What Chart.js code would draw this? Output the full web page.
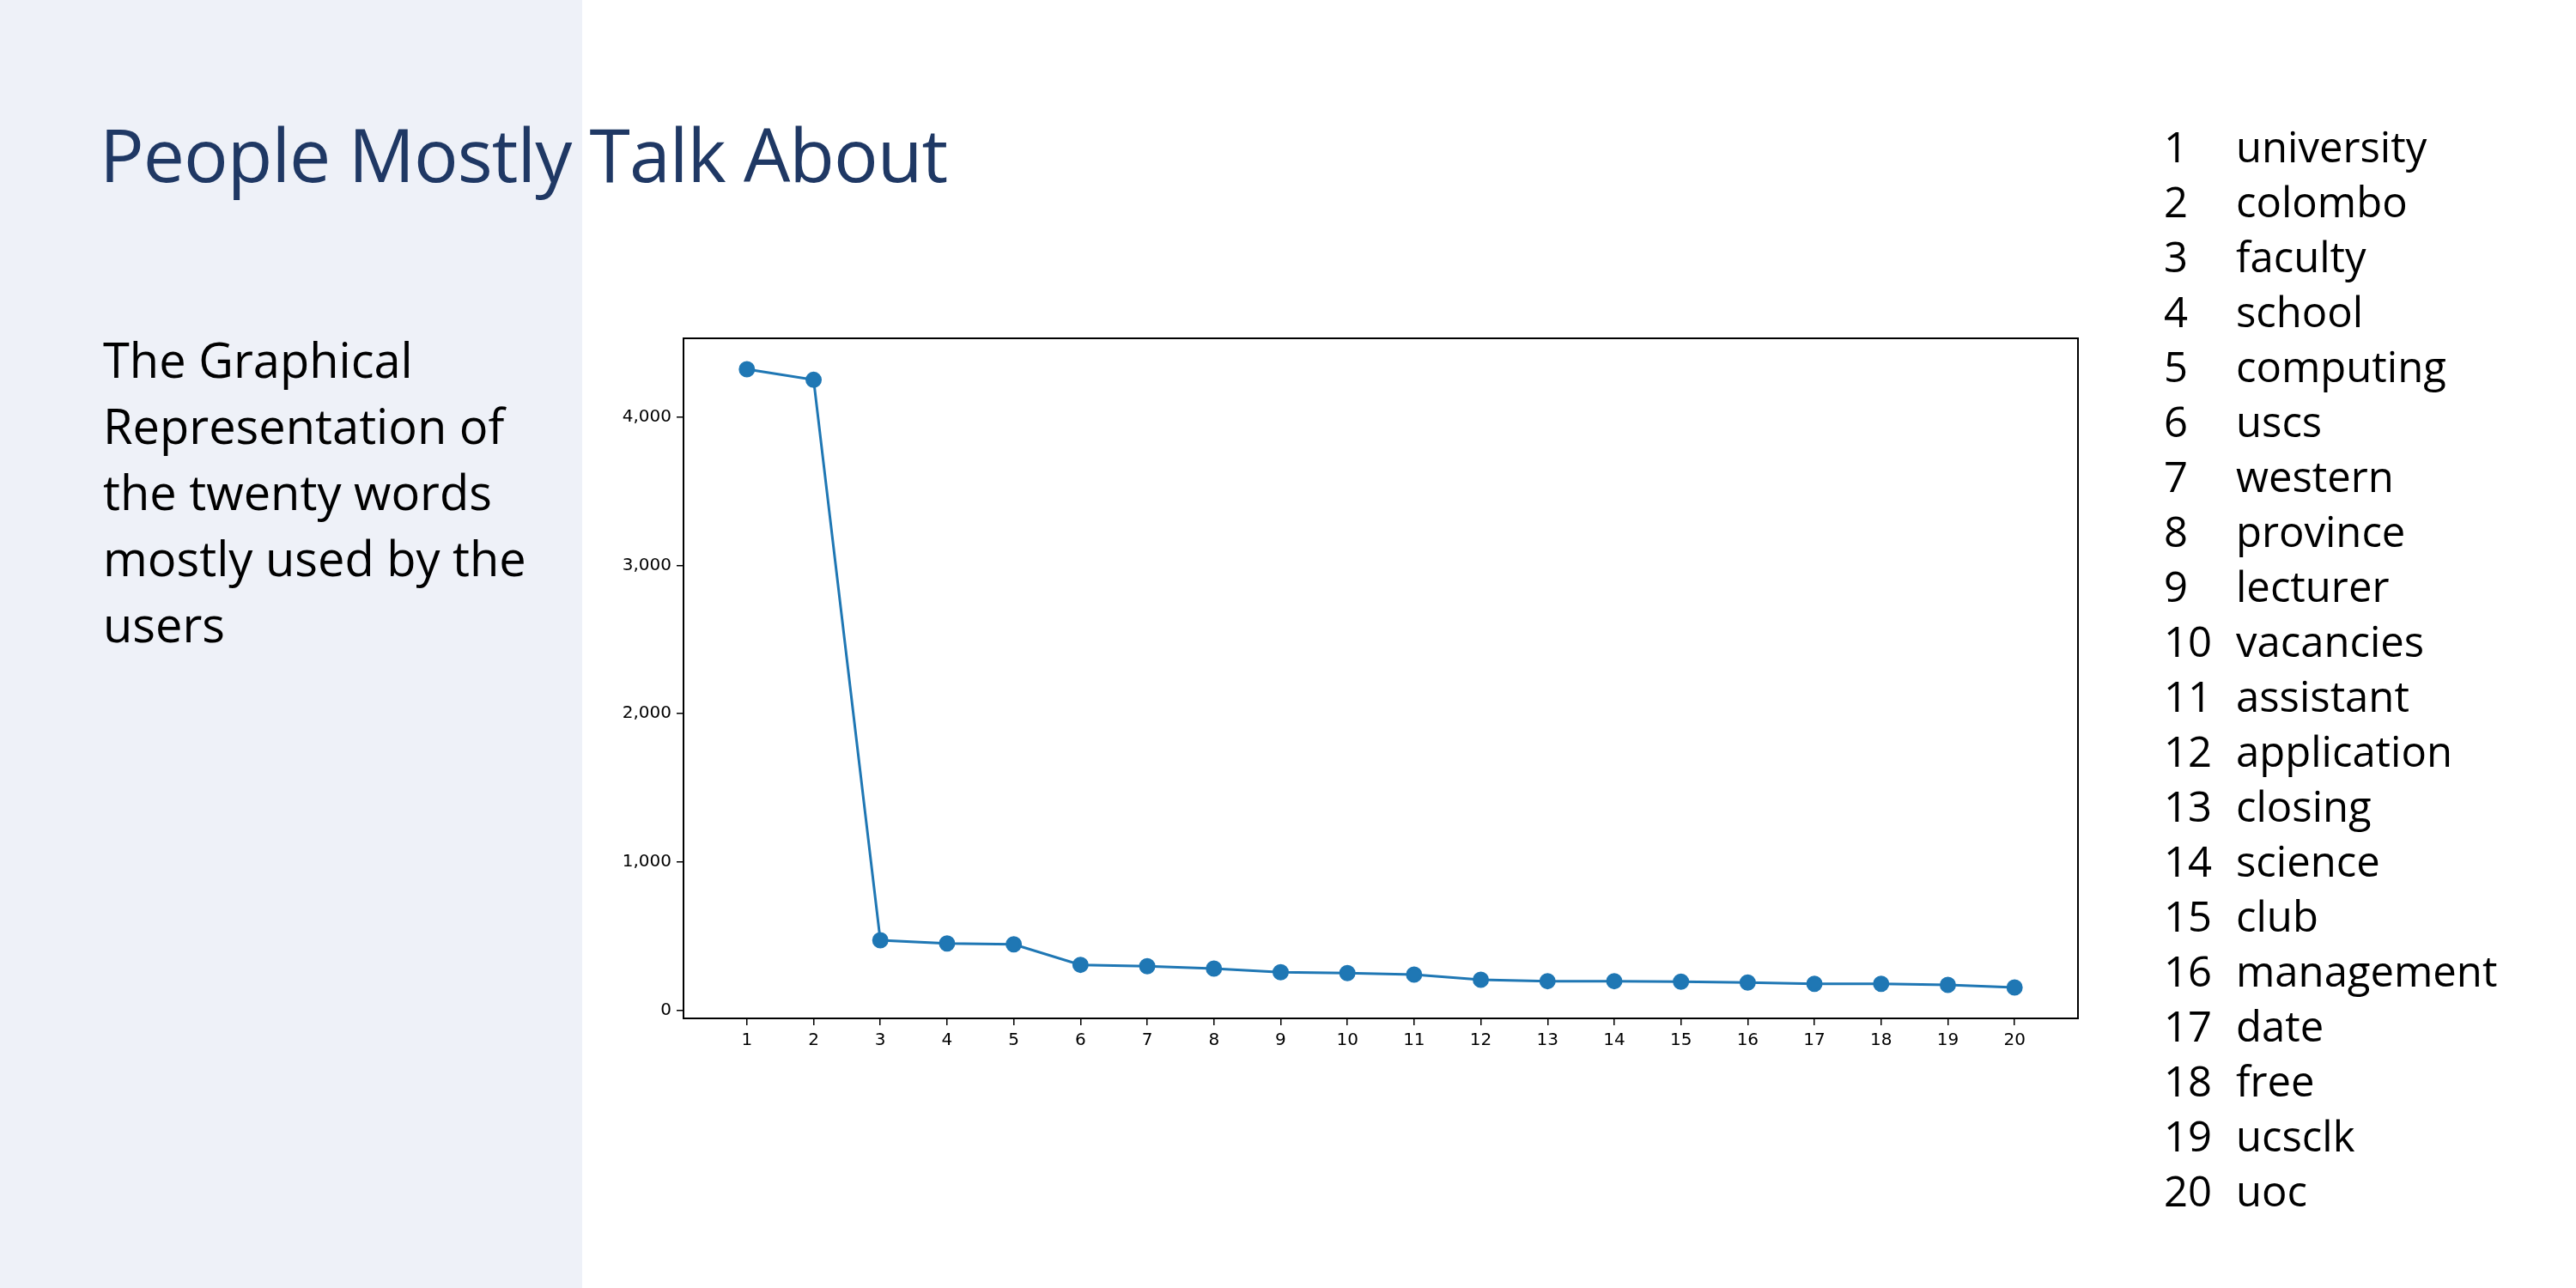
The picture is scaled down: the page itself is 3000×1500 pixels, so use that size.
<!DOCTYPE html>
<html><head><meta charset="utf-8">
<script src="https://cdn.jsdelivr.net/npm/chart.js@4/dist/chart.umd.min.js"></script>
<style>
html,body{margin:0;padding:0;width:3000px;height:1500px;background:#fff;overflow:hidden;font-family:"Open Sans",Lato,sans-serif}
#left{position:absolute;left:0;top:0;width:678px;height:1500px;background:#eef1f8}
#title{position:absolute;left:116px;top:120px;font-size:86px;color:#1f3864;white-space:nowrap;letter-spacing:-1px}
#desc{position:absolute;left:120px;top:380px;font-size:56px;line-height:77px;color:#000;width:560px}
#list{position:absolute;left:2520px;top:138px;font-size:49px;line-height:64px;color:#000}
#list div{white-space:nowrap}
#list span{display:inline-block;width:84px}
#c{position:absolute;left:680px;top:340px}
</style></head><body>
<div id="left"></div>
<div id="title">People Mostly Talk About</div>
<div id="desc">The Graphical Representation of the twenty words mostly used by the users</div>
<div id="list"></div>
<canvas id="c" width="1800" height="920" style="width:1800px;height:920px"></canvas>
<script>
const ranks=[1,2,3,4,5,6,7,8,9,10,11,12,13,14,15,16,17,18,19,20];
const words=["university","colombo","faculty","school","computing","uscs","western","province","lecturer","vacancies","assistant","application","closing","science","club","management","date","free","ucsclk","uoc"];
const counts=[4323,4251,473,451,445,307,298,282,257,251,241,207,197,197,194,188,179,179,172,154];
const yTicks=[0,1000,2000,3000,4000];

document.getElementById('list').innerHTML=ranks.map((r,i)=>'<div><span>'+r+'</span>'+words[i]+'</div>').join('');

const frame={id:'frame',afterDraw(c){const a=c.chartArea,x=c.ctx;x.save();x.strokeStyle='#000';x.lineWidth=2;x.strokeRect(a.left,a.top,a.right-a.left,a.bottom-a.top);x.restore();}};
const tickFont={family:'DejaVu Sans',size:20};
new Chart(document.getElementById('c'),{
type:'line',
data:{datasets:[{data:ranks.map((r,i)=>({x:r,y:counts[i]})),borderColor:'#1f77b4',backgroundColor:'#1f77b4',borderWidth:3,pointRadius:8,pointHoverRadius:8,tension:0}]},
options:{responsive:false,animation:false,devicePixelRatio:1,
layout:{padding:{top:54,right:60}},
plugins:{legend:{display:false},tooltip:{enabled:false}},
scales:{
x:{type:'linear',min:0.05,max:20.95,
afterBuildTicks:s=>{s.ticks=ranks.map(v=>({value:v}));},
afterFit:s=>{s.height=74;},
ticks:{font:tickFont,color:'#000',autoSkip:false,maxRotation:0,padding:6},
grid:{drawOnChartArea:false,tickLength:8,color:'#000',lineWidth:1.5},
border:{display:false}},
y:{min:-54,max:4531,
afterBuildTicks:s=>{s.ticks=yTicks.map(v=>({value:v}));},
afterFit:s=>{s.width=116;},
ticks:{font:tickFont,color:'#000',padding:6},
grid:{drawOnChartArea:false,tickLength:8,color:'#000',lineWidth:1.5},
border:{display:false}}
}},
plugins:[frame]
});
</script>
</body></html>
